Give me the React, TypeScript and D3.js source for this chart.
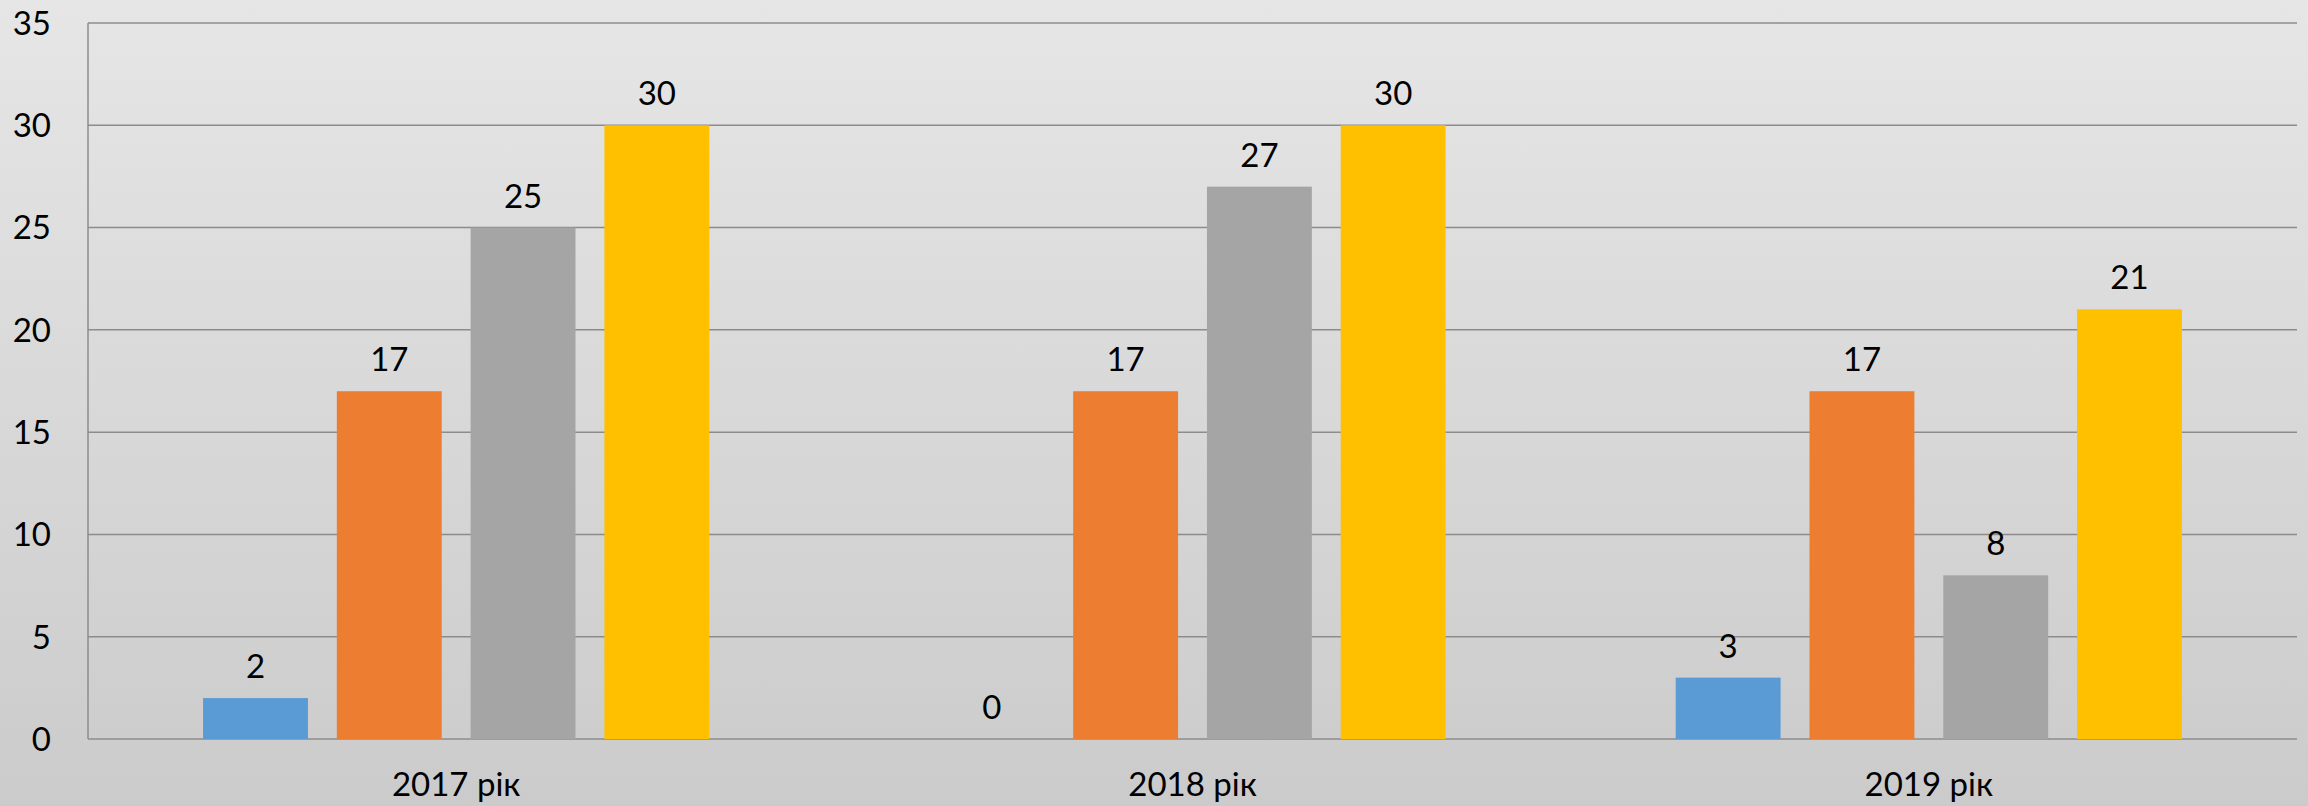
import React from 'react';
import * as d3 from 'd3';

const categories = ['2017 рік', '2018 рік', '2019 рік'];
const seriesNames = ['Ряд 1', 'Ряд 2', 'Ряд 3', 'Ряд 4'];
const seriesColors = ['#5B9BD5', '#ED7D31', '#A5A5A5', '#FFC000'];
const series1 = [2, 0, 3];
const series2 = [17, 17, 17];
const series3 = [25, 27, 8];
const series4 = [30, 30, 21];
const yTicks = [0, 5, 10, 15, 20, 25, 30, 35];

const W = 2308;
const H = 806;
const margin = { top: 23, right: 11, bottom: 67, left: 88 };

const App = () => {
  const allSeries = [series1, series2, series3, series4];

  const x0 = d3.scaleBand<string>()
    .domain(categories)
    .range([margin.left, W - margin.right])
    .padding(0);

  const x1 = d3.scaleBand<string>()
    .domain(seriesNames)
    .range([0, x0.bandwidth()])
    .paddingInner(0.216)
    .paddingOuter(0.86);

  const y = d3.scaleLinear()
    .domain([0, 35])
    .range([H - margin.bottom, margin.top]);

  const font = 'Lato, "Open Sans", sans-serif';
  const fs = 33;

  return (
    <svg width={W} height={H} style={{ position: 'absolute', left: 0, top: 0 }}>
      <defs>
        <linearGradient id="bg" x1="0" y1="0" x2="0" y2="1">
          <stop offset="0%" stopColor="#e6e6e6" />
          <stop offset="100%" stopColor="#cbcbcb" />
        </linearGradient>
      </defs>
      <rect x={0} y={0} width={W} height={H} fill="url(#bg)" />

      {/* gridlines */}
      {yTicks.map(t => (
        <line key={t}
          x1={margin.left} x2={W - margin.right}
          y1={y(t)} y2={y(t)}
          stroke="#8c8c8c" strokeWidth={1.5} />
      ))}
      <line x1={margin.left} x2={margin.left} y1={y(35)} y2={y(0)} stroke="#8c8c8c" strokeWidth={1.5} />

      {/* y labels */}
      {yTicks.map(t => (
        <text key={'l' + t} x={51} y={y(t)} dy="0.36em" textAnchor="end"
          fontFamily={font} fontSize={fs} fill="#000">{t}</text>
      ))}

      {/* bars */}
      {categories.map((c, ci) => (
        <g key={c} transform={`translate(${x0(c)},0)`}>
          {allSeries.map((s, si) => {
            const v = s[ci];
            const bx = x1(seriesNames[si])!;
            return (
              <g key={si}>
                {v > 0 && (
                  <rect x={bx} y={y(v)} width={x1.bandwidth()} height={y(0) - y(v)}
                    fill={seriesColors[si]} />
                )}
                <text x={bx + x1.bandwidth() / 2} y={y(v) - 20} textAnchor="middle"
                  fontFamily={font} fontSize={fs} fill="#000">{v}</text>
              </g>
            );
          })}
        </g>
      ))}

      {/* x labels */}
      {categories.map(c => (
        <text key={'x' + c} x={x0(c)! + x0.bandwidth() / 2} y={796} textAnchor="middle"
          fontFamily={font} fontSize={fs} fill="#000">{c}</text>
      ))}
    </svg>
  );
};

export default App;
